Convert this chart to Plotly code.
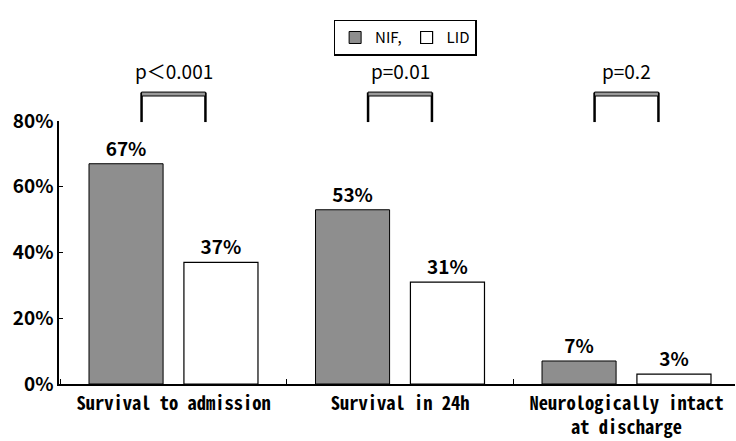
import plotly.graph_objects as go

categories = ["Survival to admission", "Survival in 24h", "Neurologically intact<br>at discharge"]
nif_values = [67, 53, 7]
lid_values = [37, 31, 3]
series_names = ["NIF,", "LID"]
p_labels = ["p\uff1c0.001", "p=0.01", "p=0.2"]
y_ticks = [0, 20, 40, 60, 80]
y_tick_labels = ["0%", "20%", "40%", "60%", "80%"]

GRAY = "#8e8e8e"
NUM_FONT = "Noto Sans CJK JP, DejaVu Sans"
MONO_FONT = "Noto Sans Mono CJK JP, DejaVu Sans Mono"

fig = go.Figure()
fig.add_trace(go.Bar(
    x=categories, y=nif_values, name=series_names[0],
    marker=dict(color=GRAY, line=dict(color="black", width=1)),
    width=0.327, offset=-0.373,
    text=[f"<b>{v}%</b>" for v in nif_values], textposition="outside",
    textfont=dict(family=NUM_FONT, size=19, color="black"),
    cliponaxis=False,
))
fig.add_trace(go.Bar(
    x=categories, y=lid_values, name=series_names[1],
    marker=dict(color="white", line=dict(color="black", width=1.2)),
    width=0.327, offset=0.046,
    text=[f"<b>{v}%</b>" for v in lid_values], textposition="outside",
    textfont=dict(family=NUM_FONT, size=19, color="black"),
    cliponaxis=False,
))

shapes = []
annotations = []
half = 0.141
for i, lab in enumerate(p_labels):
    x0, x1 = i - half, i + half
    shapes.append(dict(type="line", xref="x", yref="paper", x0=x0, x1=x0, y0=0.996, y1=1.108,
                       line=dict(color="black", width=2.5)))
    shapes.append(dict(type="line", xref="x", yref="paper", x0=x1, x1=x1, y0=0.996, y1=1.108,
                       line=dict(color="black", width=2.5)))
    shapes.append(dict(type="rect", xref="x", yref="paper", x0=x0, x1=x1, y0=1.095, y1=1.110,
                       fillcolor="#9a9a9a", line=dict(color="black", width=1)))
    annotations.append(dict(text=lab, xref="x", yref="paper", x=i, y=1.193, showarrow=False,
                            xanchor="center", yanchor="middle",
                            font=dict(family="Noto Sans CJK JP, DejaVu Sans", size=19, color="black")))

fig.update_layout(
    width=736, height=441,
    margin=dict(l=59, r=1, t=121, b=57, autoexpand=False),
    paper_bgcolor="white", plot_bgcolor="white",
    barmode="group",
    showlegend=True,
    legend=dict(orientation="h", x=0.512, xanchor="center", y=1.385, yanchor="top",
                bordercolor="black", borderwidth=1.5,
                font=dict(family="Noto Sans CJK JP, DejaVu Sans", size=15, color="black"),
                itemwidth=30, traceorder="normal"),
    shapes=shapes,
    annotations=annotations,
    xaxis=dict(
        type="category", range=[-0.5055, 2.479], automargin=False,
        showline=True, linecolor="black", linewidth=1.5,
        ticks="inside", tickson="boundaries", ticklen=5, tickcolor="black",
        ticklabelstandoff=2,
        tickfont=dict(family=MONO_FONT, size=18.5, color="black", weight="bold"),
        showgrid=False, zeroline=False,
    ),
    yaxis=dict(
        range=[0, 80], tickvals=y_ticks, ticktext=[f"<b>{t}</b>" for t in y_tick_labels],
        automargin=False,
        showline=True, linecolor="black", linewidth=1.5,
        ticks="inside", ticklen=4, tickcolor="black",
        tickfont=dict(family=NUM_FONT, size=19, color="black"),
        showgrid=False, zeroline=False,
    ),
)

fig.write_html("out.html", config={"displayModeBar": False},
               post_script="document.body.style.margin='0';document.body.style.padding='0';")
